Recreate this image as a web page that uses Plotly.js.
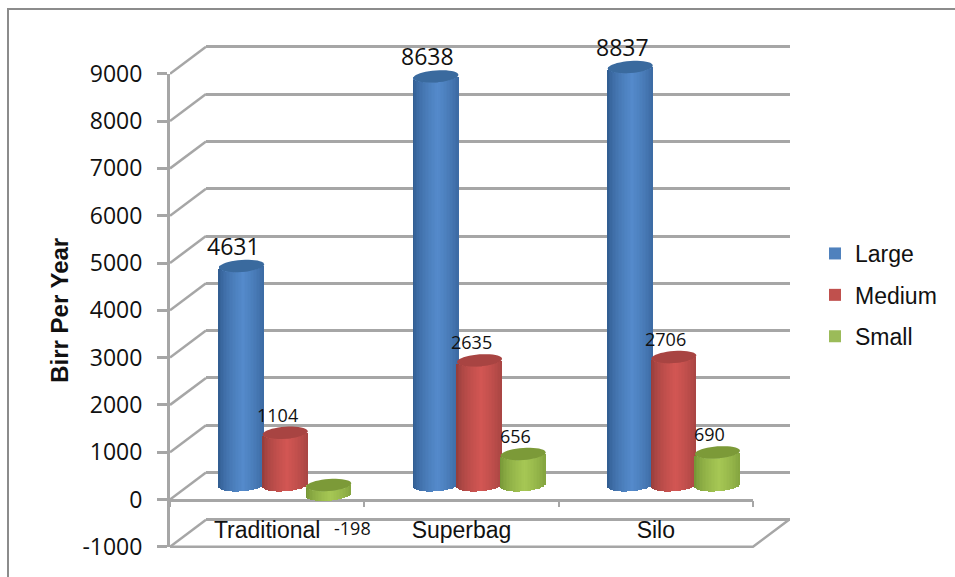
<!DOCTYPE html>
<html>
<head>
<meta charset="utf-8">
<script src="https://cdn.plot.ly/plotly-3.0.1.min.js"></script>
<style>html,body{margin:0;padding:0;background:#fff}#chart{width:955px;height:577px}</style>
</head>
<body>
<div id="chart"></div>
<script>
// Chart data
const categories = ['Traditional', 'Superbag', 'Silo'];
const seriesNames = ['Large', 'Medium', 'Small'];
const large = [4631, 8638, 8837];
const medium = [1104, 2635, 2706];
const small = [-198, 656, 690];
const axisTicks = [-1000, 0, 1000, 2000, 3000, 4000, 5000, 6000, 7000, 8000, 9000];

// Series colours: legend swatch, lit side, shaded side, top cap
const palette = [
  {base: '#4f81bd', lit: [84, 138, 203], dark: [44, 86, 136], cap: '#3a6a9e'},
  {base: '#c0504d', lit: [210, 86, 83], dark: [141, 58, 56], cap: '#a84442'},
  {base: '#9bbb59', lit: [166, 199, 84], dark: [110, 142, 50], cap: '#7c9a38'}
];

const W = 955, H = 577;
const unitPx = 47.3 / 1000;            // pixels per Birr on every value axis
const grey = '#a6a6a6';
const font = '"Open Sans", sans-serif';
const sansFont = '"Liberation Sans", Arial, sans-serif';

const fx = p => p / W;
const fy = p => 1 - p / H;

// Three planes of the pseudo-3D box: back wall, front plane, and mid depth for the columns
const front = {x0: 170, x1: 753, zero: 499.5};
const depth = {dx: 36, dy: 27};
const mid = {dx: 18, dy: 14.5};
const catPx = (front.x1 - front.x0) / categories.length;

const values = [large, medium, small];
const slotOffset = [-43.6 / catPx, 0, 43.6 / catPx];
const barWidth = 45 / catPx;
const capHalfHeight = 6 / unitPx;
const capTilt = 1.6 / unitPx;
const STRIPS = 30;

// Pixel span of a value range on a plane whose zero sits at the given height
const ySpan = (zero, lo, hi) => [fy(zero - lo * unitPx), fy(zero - hi * unitPx)];

function mix(a, b, k) {
  return 'rgb(' + a.map((v, i) => Math.round(v * k + b[i] * (1 - k))).join(',') + ')';
}

const traces = [];

// Empty traces that bring up the back wall and the front plane axes
traces.push({type: 'scatter', mode: 'none', x: [0, 1], y: [-1000, 9000],
  xaxis: 'x', yaxis: 'y', showlegend: false, hoverinfo: 'skip'});
traces.push({type: 'scatter', mode: 'none', x: categories, y: [0, 0, 0],
  xaxis: 'x2', yaxis: 'y2', showlegend: false, hoverinfo: 'skip'});

// Solid columns carrying the values and the legend entries
values.forEach((vals, s) => {
  traces.push({
    type: 'bar', name: seriesNames[s], legendgroup: seriesNames[s],
    x: categories.map((c, i) => i + slotOffset[s]), y: vals,
    width: barWidth, xaxis: 'x3', yaxis: 'y3',
    marker: {color: palette[s].base, line: {width: 0}},
    hoverinfo: 'name+y'
  });
});

// Rounded shading of each column, made of narrow bars that follow the lower rim
values.forEach((vals, s) => {
  const xs = [], tops = [], bases = [], cols = [];
  vals.forEach((v, i) => {
    for (let k = 0; k < STRIPS; k++) {
      const t = -1 + (2 * k + 1) / STRIPS;
      const rim = capHalfHeight * Math.sqrt(1 - t * t) - capTilt * t;
      const hi = Math.max(v, 0), lo = Math.min(v, 0);
      const light = Math.pow(Math.max(0, 1 - Math.abs(t - 0.1) / 1.1), 0.55);
      xs.push(i + slotOffset[s] + t * barWidth / 2);
      bases.push(lo - rim);
      tops.push(hi - lo);
      cols.push(mix(palette[s].lit, palette[s].dark, light));
    }
  });
  traces.push({
    type: 'bar', x: xs, y: tops, base: bases, width: barWidth / STRIPS * 1.15,
    xaxis: 'x3', yaxis: 'y3', showlegend: false, hoverinfo: 'skip',
    marker: {color: cols, line: {width: 0}}
  });
});

// Side wall and floor edges of the box, on a roomier numeric twin of the front plane
const toBackX = depth.dx / catPx;
const toBackY = depth.dy / unitPx;
const edgeX = [], edgeY = [];
axisTicks.forEach(v => {
  edgeX.push(-0.5, -0.5 + toBackX, null);
  edgeY.push(v, v + toBackY, null);
});
edgeX.push(-0.5, 2.5, 2.5 + toBackX);
edgeY.push(-1000, -1000, -1000 + toBackY);
traces.push({
  type: 'scatter', mode: 'lines', x: edgeX, y: edgeY,
  xaxis: 'x4', yaxis: 'y4', cliponaxis: false, showlegend: false, hoverinfo: 'skip',
  line: {color: grey, width: 2.5}
});

// Column top caps
const shapes = [];
values.forEach((vals, s) => {
  vals.forEach((v, i) => {
    const cx = i + slotOffset[s], cy = Math.max(v, 0);
    let d = '';
    for (let a = 0; a < 40; a++) {
      const th = a / 40 * 2 * Math.PI;
      const c = Math.cos(th);
      d += (a ? 'L' : 'M') + (cx + c * barWidth / 2) + ',' +
           (cy + capHalfHeight * Math.sin(th) + capTilt * c);
    }
    shapes.push({type: 'path', xref: 'x3', yref: 'y3', path: d + 'Z',
      fillcolor: palette[s].cap, line: {width: 0}, layer: 'above'});
  });
});

// Outer frame, open on the right and at the bottom
shapes.push({type: 'path', xref: 'paper', yref: 'paper',
  path: `M${fx(8)},0 L${fx(8)},${fy(9)} L1,${fy(9)}`,
  line: {color: '#8c8c8c', width: 2}, layer: 'below'});

// Value labels
const annotations = [];
values.forEach((vals, s) => {
  vals.forEach((v, i) => {
    const neg = v < 0;
    annotations.push({
      xref: 'x3', yref: 'y3', x: i + slotOffset[s], y: v,
      text: String(v), showarrow: false,
      xshift: neg ? 24 : -8, yshift: neg ? -34 : (s === 0 ? 20 : 18),
      font: {family: font, size: s === 0 ? 23 : 18, color: '#111'}
    });
  });
});

const backZero = front.zero - depth.dy;
const edgeRight = 2.5 + 50 / catPx;

const layout = {
  width: W, height: H,
  margin: {l: 0, r: 0, t: 0, b: 0},
  paper_bgcolor: '#fff', plot_bgcolor: 'rgba(0,0,0,0)',
  barmode: 'overlay', bargap: 0,
  showlegend: true,
  legend: {
    x: fx(815), y: fy(232), xanchor: 'left', yanchor: 'top',
    font: {family: sansFont, size: 23, color: '#111'},
    traceorder: 'grouped', tracegroupgap: 8.5, bgcolor: 'rgba(0,0,0,0)'
  },
  // Back wall gridlines; the range runs past the outer ticks so all of them are kept
  xaxis: {domain: [fx(front.x0 + depth.dx), fx(front.x1 + depth.dx + 1)], range: [0, 1],
    anchor: 'y', showticklabels: false, ticks: '', showgrid: false, zeroline: false, showline: false},
  yaxis: {domain: ySpan(backZero, -1100, 9100), range: [-1100, 9100],
    anchor: 'x', tickvals: axisTicks, showticklabels: false, ticks: '', showgrid: true,
    gridcolor: grey, gridwidth: 2.5, zeroline: false, showline: false},
  // Front plane: category axis on the zero line, value axis with tick labels
  xaxis2: {domain: [fx(front.x0), fx(front.x1)], type: 'category', categoryarray: categories,
    categoryorder: 'array', tickmode: 'array', tickvals: categories, ticktext: categories,
    range: [-0.5, 2.5], anchor: 'free', position: 1 - front.zero / H,
    tickson: 'boundaries', ticks: 'outside', ticklen: 6, tickcolor: grey, tickwidth: 2,
    showline: true, linecolor: grey, linewidth: 2.5, showgrid: false, zeroline: false,
    ticklabelstandoff: 9, tickfont: {family: sansFont, size: 23, color: '#111'}},
  yaxis2: {domain: ySpan(front.zero, -1000, 9000), range: [-1000, 9000],
    anchor: 'x2', tickvals: axisTicks, ticktext: axisTicks.map(String), ticks: 'outside', ticklen: 10,
    tickcolor: grey, tickwidth: 2.5, showline: true, linecolor: grey, linewidth: 3,
    showgrid: false, zeroline: false, ticklabelstandoff: 10,
    tickfont: {family: font, size: 23, color: '#111'},
    title: {text: '<b>Birr Per Year</b>', standoff: 7, font: {family: sansFont, size: 24, color: '#111'}}},
  // Mid-depth plane for the columns
  xaxis3: {domain: [fx(front.x0 + mid.dx), fx(front.x1 + mid.dx)], range: [-0.5, 2.5],
    anchor: 'y3', visible: false},
  yaxis3: {domain: ySpan(front.zero - mid.dy, -1000, 9500), range: [-1000, 9500],
    anchor: 'x3', visible: false},
  // Numeric twin of the front plane, used by the box edges
  xaxis4: {domain: [fx(front.x0), fx(front.x1 + 50)], range: [-0.5, edgeRight], anchor: 'y4', visible: false},
  yaxis4: {domain: ySpan(front.zero, -1200, 10000), range: [-1200, 10000], anchor: 'x4', visible: false},
  shapes, annotations
};

Plotly.newPlot('chart', traces, layout, {displayModeBar: false, responsive: false});
</script>
</body>
</html>
